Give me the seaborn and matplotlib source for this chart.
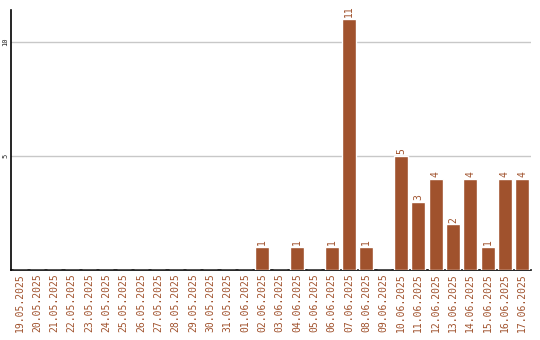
import matplotlib
matplotlib.use("Agg")
import matplotlib.pyplot as plt
import seaborn as sns
import pandas as pd

dates = ["19.05.2025", "20.05.2025", "21.05.2025", "22.05.2025", "23.05.2025",
         "24.05.2025", "25.05.2025", "26.05.2025", "27.05.2025", "28.05.2025",
         "29.05.2025", "30.05.2025", "31.05.2025", "01.06.2025", "02.06.2025",
         "03.06.2025", "04.06.2025", "05.06.2025", "06.06.2025", "07.06.2025",
         "08.06.2025", "09.06.2025", "10.06.2025", "11.06.2025", "12.06.2025",
         "13.06.2025", "14.06.2025", "15.06.2025", "16.06.2025", "17.06.2025"]
values = [0, 0, 0, 0, 0, 0, 0, 0, 0, 0, 0, 0, 0, 0, 1,
          0, 1, 0, 1, 11, 1, 0, 5, 3, 4, 2, 4, 1, 4, 4]
yticks = [5, 10]

color = "#A0522D"
df = pd.DataFrame({"date": dates, "value": values})

sns.set_style("white")
plt.rcParams["font.family"] = ["DejaVu Sans Mono", "DejaVu Sans"]

fig = plt.figure(figsize=(5.4, 3.4), dpi=100)
ax = fig.add_axes([11/540, 70/340, 520/540, 260/340])
sns.barplot(data=df, x="date", y="value", color=color, saturation=1,
            width=0.8, ax=ax, zorder=3)

ax.set_ylim(0, 11.4)
ax.set_xlim(-0.5, len(dates) - 0.5)
ax.set_yticks(yticks)
ax.set_yticklabels([str(t) for t in yticks], rotation=90, fontsize=5,
                   va="center", ha="center")
ax.yaxis.grid(True, color="#c8c8c8", linewidth=1, zorder=0)
ax.tick_params(axis="x", length=0, pad=2)
ax.tick_params(axis="y", length=0, pad=4)
ax.set_xticks(range(len(dates)))
ax.set_xticklabels(dates, rotation=90, fontsize=7, color=color)
ax.set_xlabel("")
ax.set_ylabel("")

for s in ["top", "right"]:
    ax.spines[s].set_visible(False)
for s in ["left", "bottom"]:
    ax.spines[s].set_color("black")
    ax.spines[s].set_linewidth(1.2)

for i, v in enumerate(values):
    if v > 0:
        ax.text(i, v + 0.08, str(v), rotation=90, ha="center", va="bottom",
                fontsize=7, color=color)

fig.savefig("out.png", dpi=100)
